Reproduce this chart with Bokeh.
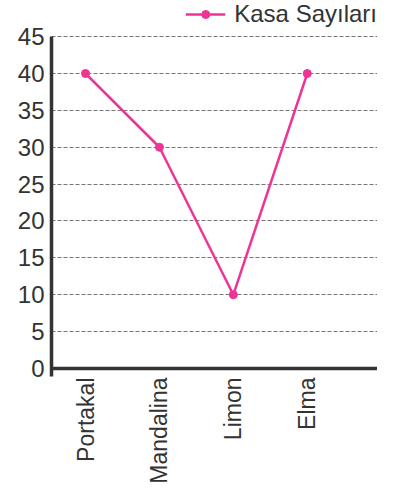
import math
from bokeh.plotting import figure
from bokeh.models import Range1d, FixedTicker, Span, Legend, LegendItem
from bokeh.embed import file_html
from bokeh.resources import INLINE

categories = ["Portakal", "Mandalina", "Limon", "Elma"]
values = [40, 30, 10, 40]
y_ticks = [0, 5, 10, 15, 20, 25, 30, 35, 40, 45]
series_name = "Kasa Sayıları"

xs = list(range(len(categories)))
PINK = "#ee3497"
DARK = "#333333"
FONT = "Liberation Sans"
Y_START, Y_END = -1.09, 49.9

p = figure(width=377, height=486, output_backend="svg", toolbar_location=None,
           x_range=Range1d(-0.46, 3.95), y_range=Range1d(Y_START, Y_END),
           min_border_left=51, min_border_top=0, min_border_right=0, min_border_bottom=0)
p.outline_line_color = None
p.background_fill_color = "white"

line = p.line(xs, values, line_color=PINK, line_width=2.5)
dots = p.scatter(xs, values, size=8, fill_color=PINK, line_color=PINK)

# y axis
p.yaxis.ticker = FixedTicker(ticks=y_ticks)
p.yaxis.bounds = (Y_START, y_ticks[-1])
p.yaxis.axis_line_color = DARK
p.yaxis.axis_line_width = 3.5
p.yaxis.major_tick_line_color = None
p.yaxis.minor_tick_line_color = None
p.yaxis.major_tick_out = 0
p.yaxis.major_tick_in = 0
p.yaxis.major_label_text_font = FONT
p.yaxis.major_label_text_font_size = "24px"
p.yaxis.major_label_text_color = DARK
p.yaxis.major_label_standoff = 7

# x axis
p.xaxis.ticker = FixedTicker(ticks=xs)
p.xaxis.major_label_overrides = {i: c for i, c in zip(xs, categories)}
p.xaxis.axis_line_color = None
p.xaxis.major_tick_line_color = None
p.xaxis.minor_tick_line_color = None
p.xaxis.major_tick_out = 0
p.xaxis.major_tick_in = 0
p.xaxis.axis_label_standoff = 0
p.xaxis.major_label_orientation = math.pi / 2
p.xaxis.major_label_text_font = FONT
p.xaxis.major_label_text_font_size = "23px"
p.xaxis.major_label_text_color = DARK
p.xaxis.major_label_standoff = 1

p.xgrid.grid_line_color = None
p.ygrid.ticker = FixedTicker(ticks=y_ticks[1:])
p.ygrid.grid_line_color = "#777777"
p.ygrid.grid_line_dash = "4 2"
p.ygrid.grid_line_width = 1

p.add_layout(Span(location=0, dimension="width", line_color=DARK, line_width=3.5))

legend = Legend(items=[LegendItem(label=series_name, renderers=[line, dots])],
                location="top_right", orientation="horizontal",
                padding=0, margin=0, spacing=0, label_standoff=9,
                glyph_width=40, glyph_height=20,
                label_text_font=FONT, label_text_font_size="24px",
                label_text_color=DARK, border_line_color=None,
                background_fill_alpha=0)
p.add_layout(legend)

open("out.html", "w").write(file_html(p, INLINE))
